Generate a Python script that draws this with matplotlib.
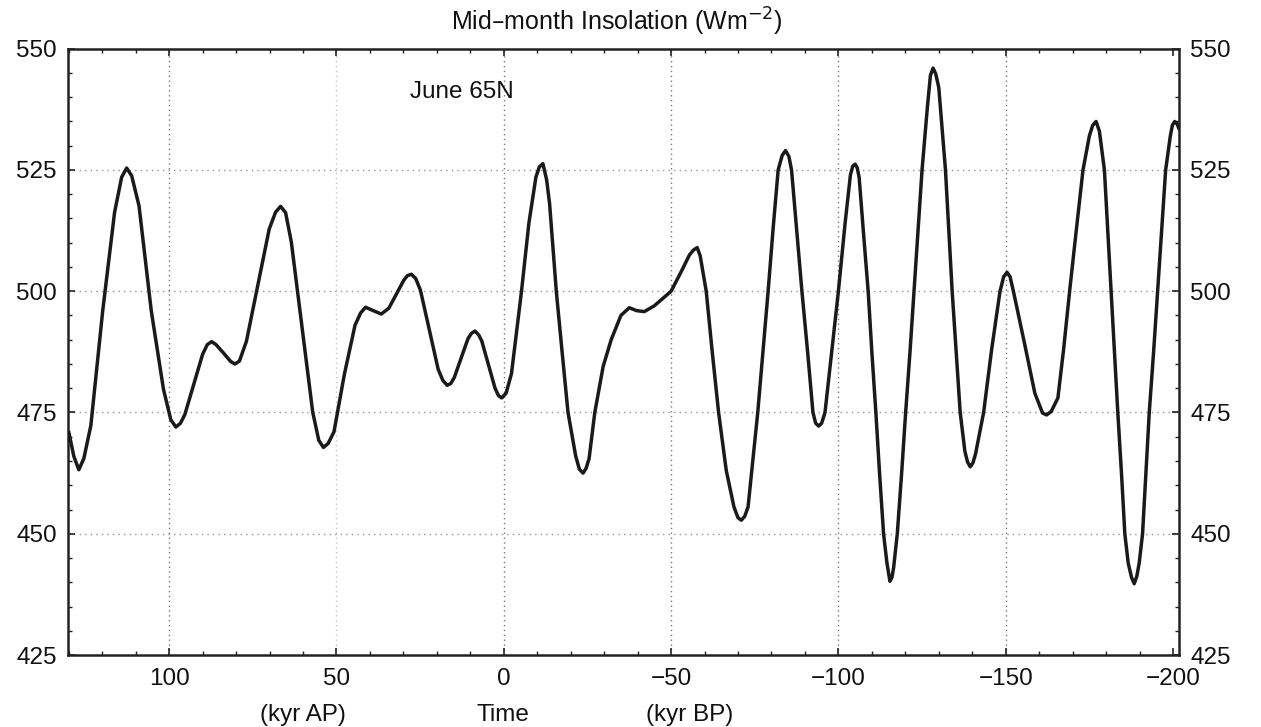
import matplotlib
matplotlib.use("Agg")
import matplotlib.pyplot as plt
from matplotlib.ticker import MultipleLocator

plt.rcParams['font.family'] = ['Liberation Sans', 'DejaVu Sans']

# Time in kyr (positive = after present, negative = before present)
time_kyr = [130, 128.5, 127, 125.5, 123.4, 119.85, 116.3, 114.2, 112.7, 111.2, 109, 105.35,
            101.7, 99.5, 98, 96.6, 95.3, 92.65, 90, 88.6, 87.3, 86, 83.8, 81.6, 80.3, 79,
            76.9, 73.5, 70.1, 68.2, 66.7, 65.2, 63.5, 60.3, 57.1, 55.3, 53.9, 52.5,
            50.75, 47.6, 44.45, 42.8, 41.3, 39, 36.6, 34.35, 32.1, 29.85, 28.8, 27.6, 26.3,
            24.9, 22.25, 19.6, 18.2, 16.9, 15.8, 14.8, 12.75, 10.7, 9.7, 8.6, 7.5,
            6.6, 4.6, 2.6, 1.6, 0.6, -0.7, -2.3, -5.3, -7.5, -9.6, -10.6, -11.7, -12.8,
            -13.7, -15.7, -17.5, -19.2, -21.5, -22.6, -23.7, -24.6,
            -25.5, -27.2, -29.7, -32.1, -35, -37.5, -39.7, -42,
            -45, -47.5, -50, -53, -55.5, -56.7, -57.8, -58.7,
            -59.5, -60.5, -62.3, -64.2, -66.5, -68.8, -70, -71, -72,
            -73, -75.9, -77.5, -79, -80.5, -82, -83.2, -84.2, -85.2,
            -86, -87.5, -89.1, -90.8, -92.4, -93.2, -94.1, -95,
            -96, -98, -100, -102, -103.6, -104.3, -105, -105.6,
            -106.2, -107.5, -108.9, -110, -111.2, -112.3, -113.5, -114.5, -115.4, -116,
            -116.5, -117.6, -118.9, -120.1, -121.4, -122.6, -123.8, -125, -126.6, -127.5,
            -128.3, -129.1,
            -130, -132, -133, -134, -135.2, -136.4, -137.8, -138.6, -139.4, -140.2,
            -141, -143.4, -145.8, -148.3, -149.4, -150.4, -151.3,
            -152.3, -155.7, -158.7, -161, -162.2, -163.6,
            -165.6, -167.3, -169.1, -171, -173.1, -175, -176, -177, -178,
            -179.5, -180.5, -181.5, -182.5, -183.5, -184.6, -185.6, -186.6, -187.6, -188.4,
            -189.2, -189.9, -190.9, -191.9, -192.9, -194.2, -195.4, -196.6, -197.8, -199.2,
            -199.8, -200.5, -201.2, -201.8]

insolation = [471, 466, 463.2, 465.5, 472.3, 496, 516.3, 523.5, 525.4, 523.8, 517.6, 496,
              479.8, 473.5, 472, 472.8, 474.6, 480.8, 487, 489, 489.6, 489, 487.3, 485.5, 485, 485.6,
              489.7, 501.3, 512.8, 516.3, 517.5, 516.2, 510.2, 492.7, 475.1, 469.3, 467.8, 468.6,
              471, 483, 493, 495.5, 496.7, 496, 495.3, 496.5, 499.4, 502.3, 503.2, 503.5, 502.6,
              500.2, 492, 483.9, 481.6, 480.6, 481, 482.2, 486.2, 490.2, 491.3, 491.8, 491,
              489.8, 484.9, 480, 478.5, 478, 479, 483, 500, 514, 523.5, 525.6, 526.3, 523,
              518, 500, 487, 475, 466, 463.3, 462.5, 463.5,
              465.5, 475, 484.5, 490, 495, 496.6, 496, 495.8,
              497, 498.5, 500, 504, 507.5, 508.5, 509, 507.3,
              504, 500, 487.5, 475, 463, 455.5, 453.3, 452.8, 453.6,
              455.5, 475, 488, 500, 513, 525, 528, 529, 527.8,
              525, 513, 500, 487.5, 475, 472.8, 472.2, 472.8,
              475, 487.5, 500, 514, 524, 525.8, 526.2, 525.5,
              523.5, 512, 500, 487.5, 475, 462.5, 450, 444, 440.2, 441,
              443, 450, 462.5, 475, 487.5, 500, 512.5, 525, 538, 544.5,
              546, 544.8,
              542, 525, 512.5, 500, 487.5, 475, 467, 464.8, 463.8, 464.6,
              466.5, 475, 488, 500, 503, 503.9, 503,
              500, 489, 479, 474.9, 474.5, 475.2,
              478, 488, 500, 512, 525, 532, 534.2, 535, 533,
              525, 512.5, 500, 487.5, 475, 462.5, 450, 444, 441, 439.7,
              441.3, 444, 450, 462.5, 475, 487.5, 500, 512.5, 525, 532,
              534.2, 535, 534.5, 533.5]

x_ticks = [100, 50, 0, -50, -100, -150, -200]
x_tick_labels = ['100', '50', '0', '\u221250', '\u2212100', '\u2212150', '\u2212200']
y_ticks = [425, 450, 475, 500, 525, 550]

fig = plt.figure(figsize=(12.61, 7.27), dpi=100)
ax = fig.add_axes([0.054, 0.099, 0.881, 0.834])

ax.plot(time_kyr, insolation, color='#1a1a1a', lw=2.5, solid_capstyle='round',
        solid_joinstyle='round', zorder=3)

ax.set_xlim(130.2, -201.8)
ax.set_ylim(425, 550)

ax.set_xticks(x_ticks)
ax.set_xticklabels(x_tick_labels)
ax.set_yticks(y_ticks)
ax.xaxis.set_minor_locator(MultipleLocator(10))
ax.yaxis.set_minor_locator(MultipleLocator(5))

ax.tick_params(axis='both', which='major', direction='in', length=5, width=1.2,
               labelsize=17.5, top=True, right=True, labelright=True, color='#222222',
               labelcolor='#111111')
ax.tick_params(axis='both', which='minor', direction='in', length=3, width=1.0,
               top=True, right=True, color='#222222')
ax.tick_params(axis='x', which='major', pad=9)
ax.tick_params(axis='y', which='major', pad=8)

for sp in ax.spines.values():
    sp.set_linewidth(1.8)
    sp.set_color('#222222')

for gx in x_ticks[:-1]:
    ax.axvline(gx, color='#555555', lw=1.0, ls=(0, (1, 2.5)), zorder=1,
               alpha=0.35 if gx == 50 else 0.8)
for gy in [450, 475, 500, 525]:
    ax.axhline(gy, color='#666666', lw=1.0, ls=(0, (1, 3)), zorder=1, alpha=0.7)

ax.text(28, 541, 'June 65N', fontsize=17.5, ha='left', va='center', color='#111111')

fig.text(0.489, 0.970, 'Mid\u2013month Insolation (Wm$^{-2}$)', fontsize=18,
         ha='center', va='center', color='#111111')
fig.text(0.240, 0.016, '(kyr AP)', fontsize=17.5, ha='center', va='center', color='#111111')
fig.text(0.399, 0.016, 'Time', fontsize=17.5, ha='center', va='center', color='#111111')
fig.text(0.547, 0.016, '(kyr BP)', fontsize=17.5, ha='center', va='center', color='#111111')

fig.savefig('out.png', dpi=100, facecolor='white')
